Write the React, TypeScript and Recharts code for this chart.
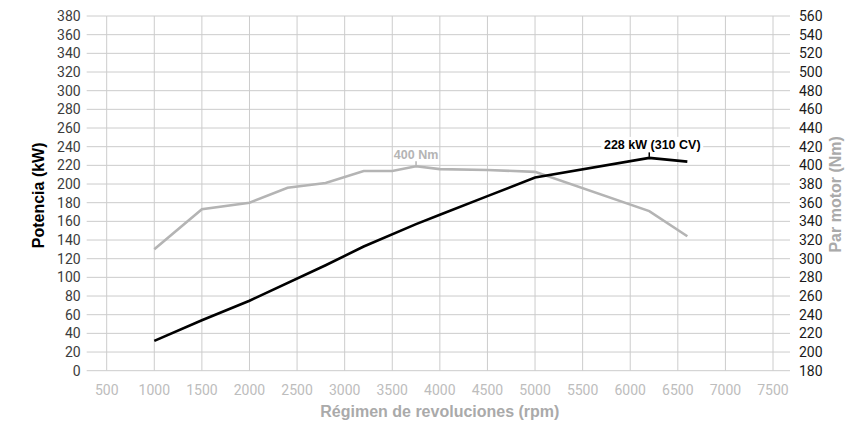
import { LineChart, Line, XAxis, YAxis, CartesianGrid, Label } from 'recharts';

// axis ticks
const rpmTicks = [500, 1000, 1500, 2000, 2500, 3000, 3500, 4000, 4500, 5000, 5500, 6000, 6500, 7000, 7500];
const powerTicks = [0, 20, 40, 60, 80, 100, 120, 140, 160, 180, 200, 220, 240, 260, 280, 300, 320, 340, 360, 380];
const torqueTicks = [180, 200, 220, 240, 260, 280, 300, 320, 340, 360, 380, 400, 420, 440, 460, 480, 500, 520, 540, 560];

// potencia (kW)
const powerRpm = [1000, 1500, 2000, 2800, 3200, 3750, 4000, 4500, 5000, 6200, 6600];
const powerKw = [32, 54, 75, 113, 133, 157, 167, 187, 207, 228, 224];

// par motor (Nm)
const torqueRpm = [1000, 1500, 2000, 2400, 2800, 3200, 3500, 3750, 4000, 4500, 5000, 6200, 6600];
const torqueNm = [310, 353, 360, 376, 381, 394, 394, 399, 396, 395, 393, 351, 324];

const powerPeakLabel = '228 kW (310 CV)';
const torquePeakLabel = '400 Nm';

const powerData = powerRpm.map((rpm, i) => ({ rpm, kw: powerKw[i] }));
const torqueData = torqueRpm.map((rpm, i) => ({ rpm, nm: torqueNm[i] }));

const powerPeak = powerKw.indexOf(Math.max(...powerKw));
const torquePeak = torqueNm.indexOf(Math.max(...torqueNm));

const COLORS = {
  grid: '#cccccc',
  power: '#000000',
  torque: '#b4b4b4',
  leftTick: '#3c3c3c',
  rightTick: '#1a1a1a',
  xTick: '#bdbdbd',
  title: '#aaaaaa',
};

const TICK_FONT = 'Roboto, "Liberation Sans", sans-serif';
const TITLE_FONT = '"Liberation Sans", Arial, sans-serif';

const PowerPeak = ({ x, y, index }: any) => {
  if (index !== powerPeak) return null;
  return (
    <g>
      <rect x={x - 48} y={y - 21} width={102} height={15} fill="#ffffff" />
      <line x1={x} y1={y - 5.5} x2={x} y2={y - 1} stroke={COLORS.power} strokeWidth={1.5} />
      <text x={x + 3} y={y - 8.5} textAnchor="middle" fontFamily={TITLE_FONT} fontWeight="bold" fontSize={12.5} fill={COLORS.power}>
        {powerPeakLabel}
      </text>
    </g>
  );
};

const TorquePeak = ({ x, y, index }: any) => {
  if (index !== torquePeak) return null;
  return (
    <g>
      <line x1={x} y1={y - 5} x2={x} y2={y - 1} stroke={COLORS.torque} strokeWidth={1.5} />
      <text x={x} y={y - 7.5} textAnchor="middle" fontFamily={TITLE_FONT} fontWeight="bold" fontSize={12.5} fill={COLORS.torque}>
        {torquePeakLabel}
      </text>
    </g>
  );
};

export default function App() {
  return (
    <div style={{ position: 'absolute', left: 0, top: 0, background: '#fff' }}>
      <LineChart width={847} height={426} margin={{ top: 16, right: 0, bottom: 0, left: 0 }}>
        <CartesianGrid yAxisId="left" stroke={COLORS.grid} strokeWidth={1} />
        <XAxis
          dataKey="rpm"
          type="number"
          domain={[500, 7500]}
          ticks={rpmTicks}
          allowDuplicatedCategory={false}
          height={55.3}
          axisLine={false}
          tickLine={false}
          tickSize={0}
          tickMargin={14}
          interval={0}
          tick={{ fill: COLORS.xTick, fontSize: 14, fontFamily: TICK_FONT }}
        >
          <Label
            content={({ viewBox }: any) => (
              <text
                x={viewBox.x + viewBox.width / 2}
                y={417}
                textAnchor="middle"
                fontFamily={TITLE_FONT}
                fontWeight="bold"
                fontSize={16}
                fill={COLORS.title}
              >
                Régimen de revoluciones (rpm)
              </text>
            )}
          />
        </XAxis>
        <YAxis
          yAxisId="left"
          domain={[0, 380]}
          ticks={powerTicks}
          width={106.7}
          interval={0}
          axisLine={false}
          tickSize={20}
          tickMargin={6}
          tickLine={{ stroke: COLORS.grid }}
          tick={{ fill: COLORS.leftTick, fontSize: 14, fontFamily: TICK_FONT }}
        >
          <Label
            content={({ viewBox }: any) => {
              const cy = viewBox.y + viewBox.height / 2 + 2;
              return (
                <text
                  x={44}
                  y={cy}
                  transform={`rotate(-90, 44, ${cy})`}
                  textAnchor="middle"
                  fontFamily={TITLE_FONT}
                  fontWeight="bold"
                  fontSize={16}
                  fill="#000"
                >
                  Potencia (kW)
                </text>
              );
            }}
          />
        </YAxis>
        <YAxis
          yAxisId="right"
          orientation="right"
          domain={[180, 560]}
          ticks={torqueTicks}
          width={74}
          interval={0}
          axisLine={false}
          tickSize={17}
          tickMargin={9}
          tickLine={{ stroke: COLORS.grid }}
          tick={{ fill: COLORS.rightTick, fontSize: 14, fontFamily: TICK_FONT }}
        >
          <Label
            content={({ viewBox }: any) => {
              const cy = viewBox.y + viewBox.height / 2 + 1;
              return (
                <text
                  x={841}
                  y={cy}
                  transform={`rotate(-90, 841, ${cy})`}
                  textAnchor="middle"
                  fontFamily={TITLE_FONT}
                  fontWeight="bold"
                  fontSize={16}
                  fill={COLORS.title}
                >
                  Par motor (Nm)
                </text>
              );
            }}
          />
        </YAxis>
        <Line
          yAxisId="right"
          data={torqueData}
          dataKey="nm"
          type="linear"
          stroke={COLORS.torque}
          strokeWidth={2.6}
          dot={false}
          label={<TorquePeak />}
          isAnimationActive={false}
        />
        <Line
          yAxisId="left"
          data={powerData}
          dataKey="kw"
          type="linear"
          stroke={COLORS.power}
          strokeWidth={2.6}
          dot={false}
          label={<PowerPeak />}
          isAnimationActive={false}
        />
      </LineChart>
    </div>
  );
}
